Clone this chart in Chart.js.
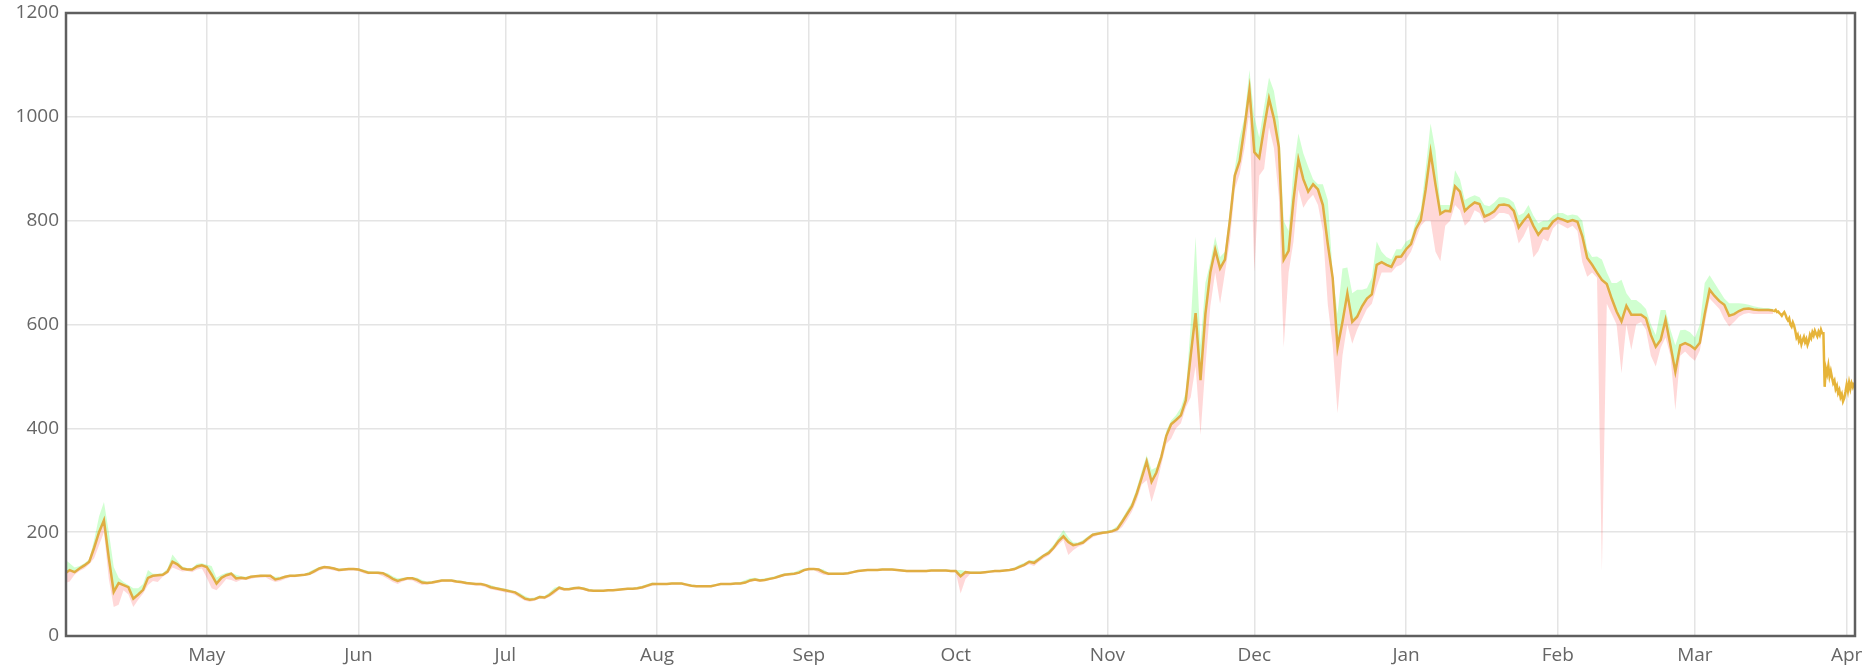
<!DOCTYPE html>
<html>
<head>
<meta charset="utf-8">
<title>Price chart</title>
<script src="https://cdn.jsdelivr.net/npm/chart.js@4"></script>
<style>
    body { margin: 0; background: #fff; }
    #wrap { width: 1871px; height: 672px; }
</style>
</head>
<body>
<div id="wrap"><canvas id="priceChart" width="1871" height="672"></canvas></div>
<script>
// day 0 = 1 Apr 2013, one value per day from day 1 to day 350
const firstDay = 1;
const closes = [
    120,127,123,130,136,143,170,200,223,150, 85,102,98,94,72,80,89,112,116,117, 118,124,143,138,130,128,128,134,136,133, 118,
    101,112,117,120,111,112,111,114,115,116, 116,116,109,111,114,116,116,117,118,120, 125,130,133,132,130,127,128,129,129,128,
    125,122,122,122,121,116,110,106,109,111, 111,108,103,102,103,105,107,107,107,105, 104,102,101,100,100,98,94,92,90,88,
    86,84,78,72,70,71,75,74,79,86, 93,90,90,92,93,91,88,87,87,87, 88,88,89,90,91,91,92,94,97,100, 100,
    100,100,101,101,101,99,97,96,96,96, 96,98,100,100,100,101,101,103,107,109, 107,108,110,112,115,118,119,120,122,127, 129,
    129,128,123,120,120,120,120,121,123,125, 126,127,127,127,128,128,128,127,126,125, 125,125,125,125,126,126,126,126,125,125,
    115,123,122,122,122,123,124,125,125,126, 127,129,133,137,143,141,148,155,160,170, 183,192,181,175,177,180,188,195,197,199, 200,
    202,206,220,235,250,275,305,336,297,315, 345,385,408,416,425,454,540,622,493,620, 700,744,708,725,800,887,915,980,1052,932,
    921,980,1035,997,942,725,742,840,918,880, 856,870,860,830,755,690,556,605,660,605, 615,635,650,658,715,720,715,711,730,731, 745,
    755,784,801,860,932,870,813,819,818,866, 856,819,828,835,832,808,812,818,830,831, 829,819,787,800,811,790,773,785,785,798, 805,
    802,798,801,798,770,728,715,700,686,678, 650,625,606,636,619,619,619,612,580,557, 570,609,560,509,560,564,560,553,565,620,
    667,655,645,638,617,620,626,630,631,629, 628,628,628,627
];
const highs = [
    148,140,132,135,140,148,185,230,258,200, 133,112,104,98,92,92,100,127,120,120, 121,130,157,145,134,131,131,139,140,137, 135,
    112,118,122,123,118,115,114,116,117,118, 118,117,114,114,116,118,118,119,120,124, 129,133,135,134,132,130,130,131,131,130,
    128,125,124,124,123,121,115,111,112,113, 113,112,108,105,106,107,109,109,109,108, 106,105,103,102,102,100,98,95,93,91,
    89,86,83,77,73,74,78,77,84,93, 96,93,93,95,95,94,91,89,89,89, 90,90,91,92,93,93,95,97,100,103, 102,
    102,102,103,103,103,101,99,98,98,98, 98,100,102,102,102,103,104,108,111,112, 110,111,113,115,118,121,122,123,127,130, 131,
    131,130,128,122,122,122,122,123,125,127, 128,129,129,129,130,130,130,129,128,127, 127,127,127,127,128,128,128,128,127,127,
    127,125,124,124,124,125,126,127,127,128, 129,132,137,141,146,146,152,158,165,176, 190,204,190,180,180,185,192,198,200,201, 203,
    205,212,226,242,258,285,318,348,320,325, 352,395,415,425,440,470,600,769,560,680, 720,769,730,740,820,900,960,1000,1090,1000,
    960,1020,1076,1050,990,800,780,900,968,930, 904,880,870,870,840,700,620,708,710,660, 667,667,670,690,760,740,730,725,745,745, 760,
    765,800,820,900,987,935,830,830,830,897, 880,840,845,849,845,830,828,835,845,845, 842,835,810,815,830,810,795,800,800,810, 815,
    815,810,812,810,800,745,730,731,725,700, 680,680,686,660,647,647,640,630,600,580, 628,628,590,560,589,590,585,575,600,680,
    695,680,665,650,641,641,641,640,638,635, 633,632,632,630
];
const lows = [
    102,105,118,125,130,138,150,175,200,110, 56,60,88,80,56,70,82,98,106,104, 114,120,132,128,124,125,123,128,130,112, 92,
    88,98,110,108,104,108,108,110,112,112, 113,108,104,106,110,113,113,115,116,118, 121,126,129,128,126,124,125,126,126,125,
    121,119,120,119,115,110,104,100,105,108, 107,102,98,99,100,102,104,104,104,102, 101,99,98,97,97,94,90,88,86,84,
    83,79,73,68,66,68,72,71,75,81, 89,87,88,89,90,88,85,85,85,85, 86,86,87,88,89,89,90,91,94,97, 98,
    98,98,99,99,99,96,95,94,94,94, 94,96,98,98,98,99,99,101,104,106, 104,106,108,110,112,115,117,118,120,124, 126,
    127,122,118,117,118,118,118,119,121,123, 124,125,125,125,126,126,126,125,124,123, 123,123,123,123,124,124,124,124,123,123,
    82,110,120,120,120,121,122,123,123,124, 125,126,130,134,138,135,143,150,155,165, 176,185,156,165,172,176,183,190,194,196, 198,
    199,202,210,224,240,262,292,300,258,290, 330,370,380,400,410,440,460,520,387,520, 634,700,640,700,760,860,890,940,1010,701,
    887,900,980,940,846,556,700,760,860,825, 840,850,830,780,639,560,429,540,600,563, 590,610,630,640,673,700,700,700,711,715, 725,
    740,765,790,800,800,740,722,790,800,830, 820,790,800,820,815,795,800,805,815,815, 812,795,756,770,790,729,741,765,760,785, 795,
    790,785,790,780,720,692,700,690,125,640, 620,600,506,600,551,600,605,590,540,519, 555,575,540,435,540,548,538,530,550,600,
    650,640,630,610,596,605,615,620,622,620, 620,620,620,620
];

// last two weeks, four prices a day, starting at day 350
const recentStart = 350;
const recentStep = 0.25;
const recentPrices = [
    627,626,628,624, 625,622,620,617, 621,624,619,612, 608,612,600,596,
    604,598,588,575, 580,568,574,562, 570,576,566,572, 561,568,580,574,
    585,579,588,582, 577,586,580,590, 583,583,480,515, 505,520,500,510,
    498,487,492,476, 482,468,474,460, 466,452,458,470, 484,472,488,476,
    487,480,488
];

// x axis ticks: first day of each month
const monthStarts = [30, 61, 91, 122, 153, 183, 214, 244, 275, 306, 334, 365];
const monthLabels = ["May", "Jun", "Jul", "Aug", "Sep", "Oct", "Nov", "Dec", "Jan", "Feb", "Mar", "Apr"];
const yTicks = [0, 200, 400, 600, 800, 1000, 1200];

const toPoints = (arr, start, step) => arr.map((v, i) => ({ x: start + i * step, y: v }));

// draw the dark frame around the plot area
const framePlugin = {
    id: "frame",
    afterDraw(chart) {
        const { ctx, chartArea } = chart;
        ctx.save();
        ctx.strokeStyle = "#5f5f5f";
        ctx.lineWidth = 2.5;
        ctx.strokeRect(chartArea.left, chartArea.top, chartArea.right - chartArea.left, chartArea.bottom - chartArea.top);
        ctx.restore();
    }
};

const ctx = document.getElementById("priceChart").getContext("2d");
new Chart(ctx, {
    type: "line",
    data: {
        datasets: [
            {
                label: "High",
                data: toPoints(highs, firstDay, 1),
                borderWidth: 0,
                pointRadius: 0,
                backgroundColor: "rgba(40,255,40,0.22)",
                fill: { target: 2 },
                order: 2
            },
            {
                label: "Low",
                data: toPoints(lows, firstDay, 1),
                borderWidth: 0,
                pointRadius: 0,
                backgroundColor: "rgba(255,60,60,0.2)",
                fill: { target: 2 },
                order: 2
            },
            {
                label: "Close",
                data: toPoints(closes, firstDay, 1),
                borderColor: "#e0ad42",
                borderWidth: 2.5,
                pointRadius: 0,
                fill: false,
                order: 0
            },
            {
                label: "Recent",
                data: toPoints(recentPrices, recentStart, recentStep),
                borderColor: "#e6b43a",
                borderWidth: 2.5,
                pointRadius: 0,
                fill: false,
                order: 0
            }
        ]
    },
    options: {
        responsive: false,
        animation: false,
        layout: { padding: { top: 13, right: 16, left: 0, bottom: 0 } },
        plugins: {
            legend: { display: false },
            tooltip: { enabled: false }
        },
        scales: {
            x: {
                type: "linear",
                min: 1.25,
                max: 366.7,
                afterBuildTicks: (scale) => {
                    scale.ticks = monthStarts.map(v => ({ value: v }));
                },
                afterFit: (scale) => { scale.height = 36; },
                ticks: {
                    callback: (value, index) => monthLabels[index],
                    autoSkip: false,
                    maxRotation: 0,
                    padding: 8,
                    color: "#666",
                    font: { family: "'Open Sans'", size: 19 }
                },
                grid: { color: "#e4e4e4", lineWidth: 1.5, drawTicks: false },
                border: { display: false }
            },
            y: {
                min: 0,
                max: 1200,
                afterBuildTicks: (scale) => {
                    scale.ticks = yTicks.map(v => ({ value: v }));
                },
                afterFit: (scale) => {
                    scale.width = 66;
                    scale.paddingTop = 0;
                    scale.paddingBottom = 0;
                },
                ticks: {
                    callback: (value) => String(value),
                    padding: 7,
                    color: "#666",
                    font: { family: "'Open Sans'", size: 19 }
                },
                grid: { color: "#e4e4e4", lineWidth: 1.5, drawTicks: false },
                border: { display: false }
            }
        }
    },
    plugins: [framePlugin]
});
</script>
</body>
</html>
